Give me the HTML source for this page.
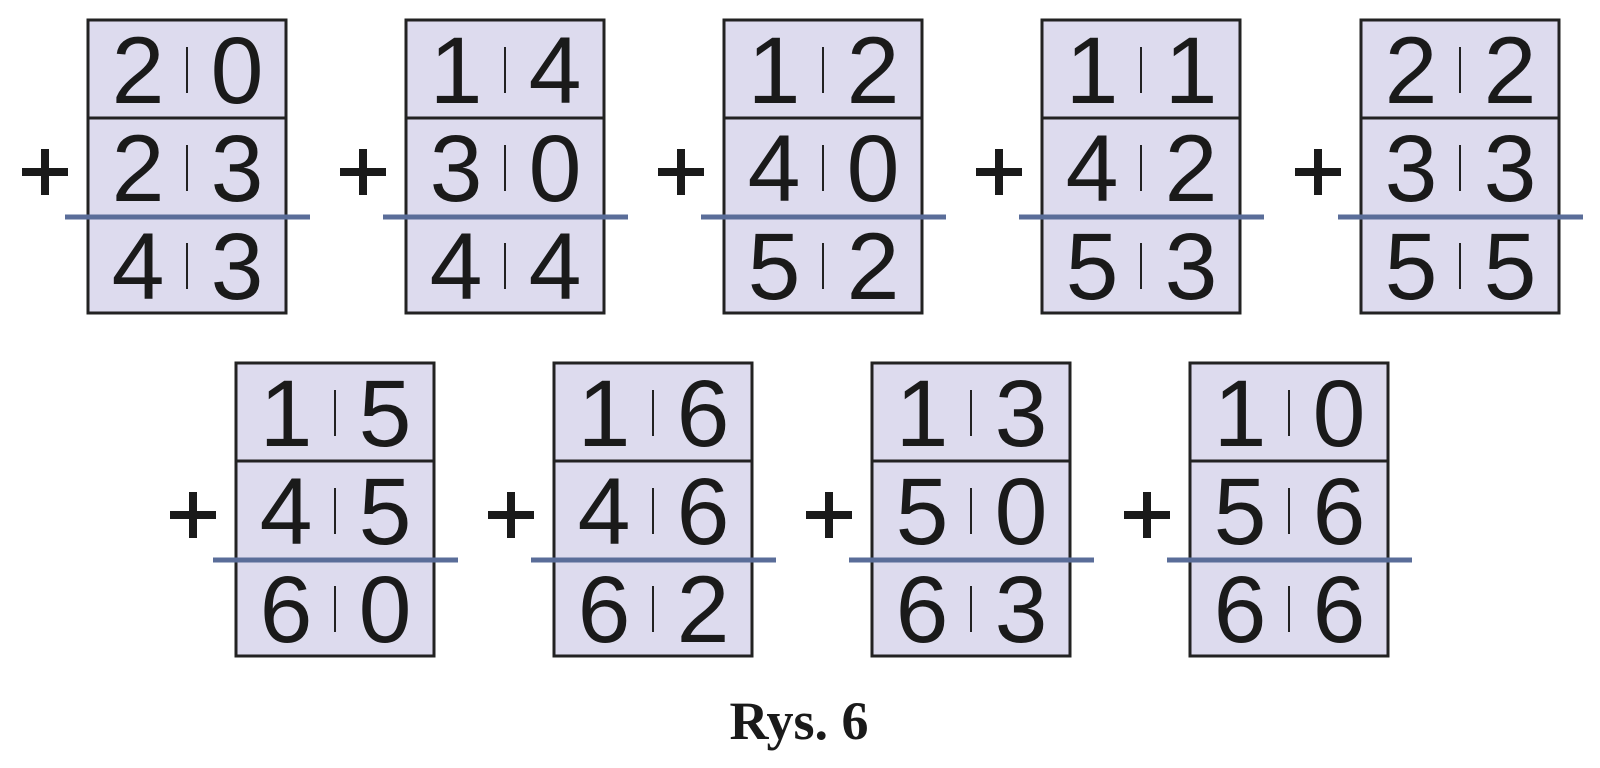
<!DOCTYPE html>
<html><head><meta charset="utf-8"><style>
html,body{margin:0;padding:0;background:#fff;width:1600px;height:768px;overflow:hidden}
svg{display:block}
.d{font-family:"Liberation Sans",sans-serif;font-size:95px;fill:#1a1a1a;text-anchor:middle}
.cap{font-family:"Liberation Serif",serif;font-weight:bold;font-size:54px;fill:#1a1a1a;text-anchor:middle}
</style></head><body>
<svg width="1600" height="768" viewBox="0 0 1600 768" xmlns="http://www.w3.org/2000/svg">
<defs>
<g id="frame">
<rect x="0" y="0" width="198" height="293" fill="#dddbee" stroke="#222" stroke-width="3"/>
<line x1="0" y1="98" x2="198" y2="98" stroke="#222" stroke-width="3"/>
<line x1="0" y1="196" x2="198" y2="196" stroke="#222" stroke-width="3"/>
<line x1="-23" y1="197" x2="222" y2="197" stroke="#5a6d99" stroke-width="5"/>
<line x1="99" y1="27" x2="99" y2="73" stroke="#222" stroke-width="2"/>
<line x1="99" y1="125" x2="99" y2="171" stroke="#222" stroke-width="2"/>
<line x1="99" y1="223" x2="99" y2="269" stroke="#222" stroke-width="2"/>
<rect x="-66" y="148" width="46" height="8" fill="#1a1a1a"/>
<rect x="-47" y="129" width="8" height="46" fill="#1a1a1a"/>
</g>
</defs>
<g transform="translate(88,20)"><use href="#frame"/>
<text class="d" x="50" y="83">2</text><text class="d" x="149" y="83">0</text>
<text class="d" x="50" y="181">2</text><text class="d" x="149" y="181">3</text>
<text class="d" x="50" y="279">4</text><text class="d" x="149" y="279">3</text></g>
<g transform="translate(406,20)"><use href="#frame"/>
<text class="d" x="50" y="83">1</text><text class="d" x="149" y="83">4</text>
<text class="d" x="50" y="181">3</text><text class="d" x="149" y="181">0</text>
<text class="d" x="50" y="279">4</text><text class="d" x="149" y="279">4</text></g>
<g transform="translate(724,20)"><use href="#frame"/>
<text class="d" x="50" y="83">1</text><text class="d" x="149" y="83">2</text>
<text class="d" x="50" y="181">4</text><text class="d" x="149" y="181">0</text>
<text class="d" x="50" y="279">5</text><text class="d" x="149" y="279">2</text></g>
<g transform="translate(1042,20)"><use href="#frame"/>
<text class="d" x="50" y="83">1</text><text class="d" x="149" y="83">1</text>
<text class="d" x="50" y="181">4</text><text class="d" x="149" y="181">2</text>
<text class="d" x="50" y="279">5</text><text class="d" x="149" y="279">3</text></g>
<g transform="translate(1361,20)"><use href="#frame"/>
<text class="d" x="50" y="83">2</text><text class="d" x="149" y="83">2</text>
<text class="d" x="50" y="181">3</text><text class="d" x="149" y="181">3</text>
<text class="d" x="50" y="279">5</text><text class="d" x="149" y="279">5</text></g>
<g transform="translate(236,363)"><use href="#frame"/>
<text class="d" x="50" y="83">1</text><text class="d" x="149" y="83">5</text>
<text class="d" x="50" y="181">4</text><text class="d" x="149" y="181">5</text>
<text class="d" x="50" y="279">6</text><text class="d" x="149" y="279">0</text></g>
<g transform="translate(554,363)"><use href="#frame"/>
<text class="d" x="50" y="83">1</text><text class="d" x="149" y="83">6</text>
<text class="d" x="50" y="181">4</text><text class="d" x="149" y="181">6</text>
<text class="d" x="50" y="279">6</text><text class="d" x="149" y="279">2</text></g>
<g transform="translate(872,363)"><use href="#frame"/>
<text class="d" x="50" y="83">1</text><text class="d" x="149" y="83">3</text>
<text class="d" x="50" y="181">5</text><text class="d" x="149" y="181">0</text>
<text class="d" x="50" y="279">6</text><text class="d" x="149" y="279">3</text></g>
<g transform="translate(1190,363)"><use href="#frame"/>
<text class="d" x="50" y="83">1</text><text class="d" x="149" y="83">0</text>
<text class="d" x="50" y="181">5</text><text class="d" x="149" y="181">6</text>
<text class="d" x="50" y="279">6</text><text class="d" x="149" y="279">6</text></g>
<text class="cap" x="799" y="739">Rys. 6</text>
</svg>
</body></html>
